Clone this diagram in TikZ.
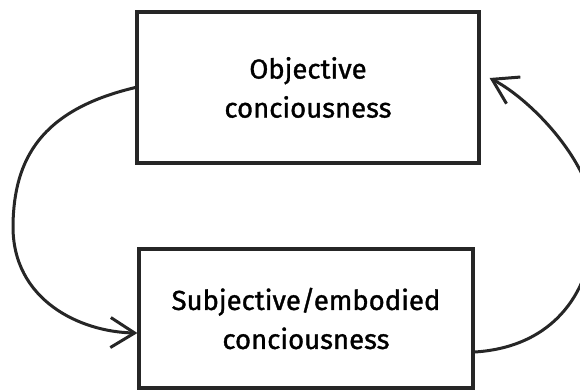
\documentclass[tikz,border=0pt]{standalone}
\usepackage{fontspec}
\setmainfont{Fira Sans}[FakeBold=1.2]
\usetikzlibrary{arrows.meta}
\definecolor{ink}{HTML}{262626}
\tikzset{
  box/.style={draw=ink, line width=3.2pt, rectangle, align=center,
    inner sep=0pt, font=\fontsize{27.5}{39}\selectfont},
  flow/.style={draw=ink, line width=3pt,
    -{Straight Barb[length=24pt,width=30pt,line width=3pt]}}
}
\begin{document}
\begin{tikzpicture}[x=1pt,y=-1pt]
  \useasboundingbox (0,0) rectangle (580,389);
  \clip (0,0) rectangle (580,389);
  \node[box, minimum width=342pt, minimum height=151pt] (top) at (308,87.5)
    {Objective\\conciousness};
  \node[box, minimum width=334pt, minimum height=139pt] (bot) at (306,318.5)
    {Subjective/embodied\\conciousness};
  % left loop: objective -> subjective
  \draw[flow] (top.west) .. controls (40,110) and (14,160) .. (13,225)
    .. controls (12,300) and (80,332) .. ([yshift=-14.5pt]bot.west);
  % right loop: subjective -> objective
  \draw[flow] ([yshift=-33.5pt]bot.east) .. controls (555,347) and (594,290) .. (594,220)
    .. controls (594,165) and (532,100) .. ([shift={(9pt,9.5pt)}]top.east);
\end{tikzpicture}
\end{document}
